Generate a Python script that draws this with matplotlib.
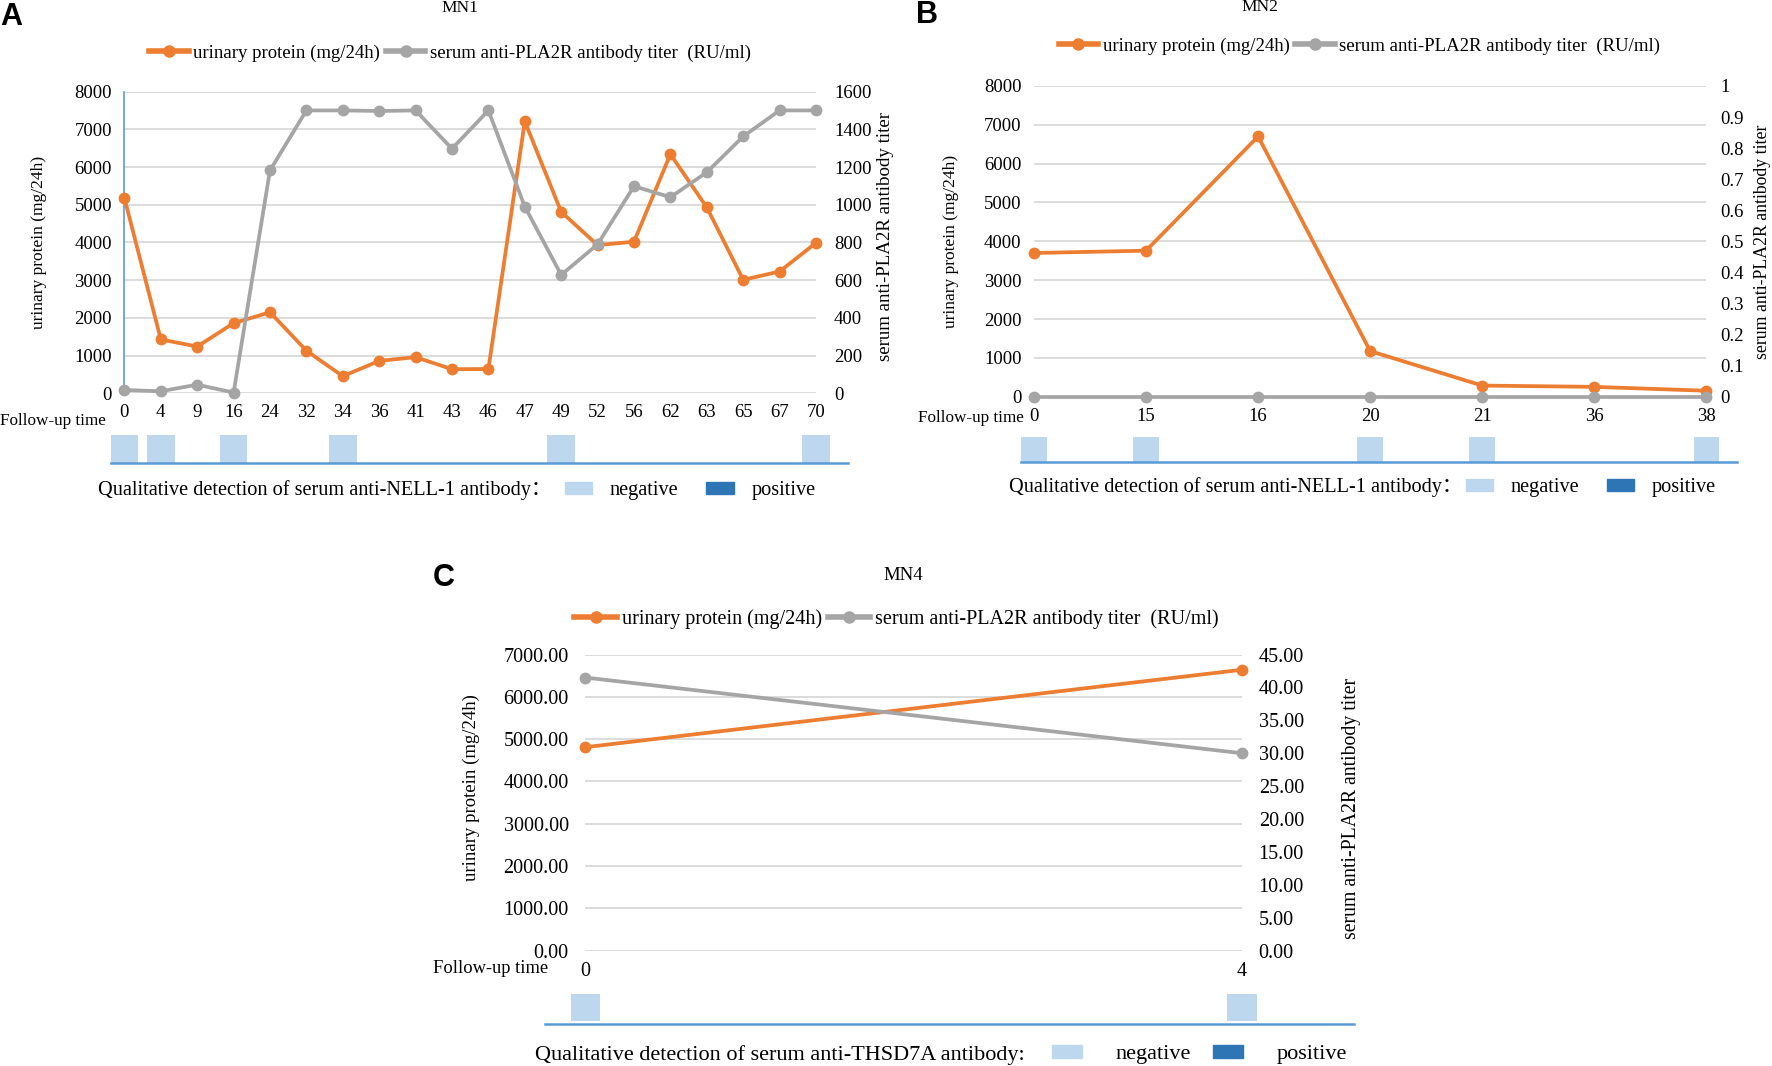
import matplotlib.pyplot as plt
from matplotlib.lines import Line2D
from matplotlib.patches import Patch

plt.rcParams['font.family'] = ['Liberation Serif', 'Noto Sans CJK SC']

# ---- data ----
a_time = ['0', '4', '9', '16', '24', '32', '34', '36', '41', '43', '46', '47', '49', '52', '56', '62', '63', '65', '67', '70']
a_protein = [5180, 1430, 1240, 1860, 2150, 1130, 455, 860, 960, 640, 645, 7210, 4810, 3930, 4020, 6340, 4930, 3010, 3230, 3990]
a_titer = [18, 11, 46, 4, 1182, 1500, 1500, 1497, 1500, 1297, 1500, 990, 628, 790, 1098, 1040, 1172, 1362, 1500, 1500]
a_negative = ['0', '4', '16', '34', '49', '70']

b_time = ['0', '15', '16', '20', '21', '36', '38']
b_protein = [3700, 3760, 6700, 1175, 288, 255, 155]
b_titer = [0, 0, 0, 0, 0, 0, 0]
b_negative = ['0', '15', '20', '21', '38']

c_time = ['0', '4']
c_protein = [4810, 6640]
c_titer = [41.5, 30.0]
c_negative = ['0', '4']

ORANGE = '#ED7D31'
GREY = '#A5A5A5'
NEG = '#BDD7EE'
POS = '#2E75B6'
LINEBLUE = '#5B9BD5'

fig = plt.figure(figsize=(17.72, 10.66), dpi=100)


def panel(rect, times, protein, titer, negative, lmax, lstep, rmax, rstep,
          lfmt, rfmt, title, letter, letter_xy, antibody, lay, fs):
    ax = fig.add_axes(rect)
    ax2 = ax.twinx()
    n = len(times)
    x = list(range(n))

    ax.plot(x, protein, color=ORANGE, lw=2.7, marker='o', ms=7.5, clip_on=False, zorder=3)
    ax2.plot(x, titer, color=GREY, lw=2.7, marker='o', ms=7.5, clip_on=False, zorder=3)

    ax.set_xlim(0, n - 1)
    ax.set_ylim(0, lmax)
    ax2.set_ylim(0, rmax)
    lt = [i * lstep for i in range(int(round(lmax / lstep)) + 1)]
    rt = [i * rstep for i in range(int(round(rmax / rstep)) + 1)]
    ax.set_yticks(lt)
    ax.set_yticklabels([lfmt(v) for v in lt])
    ax2.set_yticks(rt)
    ax2.set_yticklabels([rfmt(v) for v in rt])
    ax.set_xticks(x)
    ax.set_xticklabels(times)

    ax.yaxis.grid(True, color='#D9D9D9', lw=1.3)
    ax.set_axisbelow(True)
    for s in ax.spines.values():
        s.set_visible(False)
    for s in ax2.spines.values():
        s.set_visible(False)
    if lay['blue_spine']:
        ax.spines['left'].set_visible(True)
        ax.spines['left'].set_color(LINEBLUE)
        ax.spines['left'].set_linewidth(1.2)

    ax.tick_params(axis='y', length=0, pad=lay['lpad'], labelsize=fs)
    ax2.tick_params(axis='y', length=0, pad=lay['rpad'], labelsize=fs)
    ax.tick_params(axis='x', length=0, pad=8, labelsize=fs)

    ax.set_ylabel('urinary protein (mg/24h)', fontsize=fs - 1)
    ax.yaxis.set_label_coords(*lay['ylab_l'])
    ax2.set_ylabel('serum anti-PLA2R antibody titer', fontsize=lay['rlfs'])
    ax2.yaxis.set_label_coords(*lay['ylab_r'])

    ax.text(lay['title'][0], lay['title'][1], title, transform=ax.transAxes,
            ha='center', va='center', fontsize=fs - 1)
    fig.text(letter_xy[0], letter_xy[1], letter, family='Liberation Sans',
             fontweight='bold', fontsize=22, ha='left', va='center')

    handles = [Line2D([], [], color=ORANGE, lw=4, marker='o', ms=8),
               Line2D([], [], color=GREY, lw=4, marker='o', ms=8)]
    ax2.legend(handles, ['urinary protein (mg/24h)', 'serum anti-PLA2R antibody titer  (RU/ml)'],
               loc='center', bbox_to_anchor=lay['legend'], ncol=2, frameon=False,
               handlelength=2.1, handletextpad=0.25, columnspacing=0.3,
               fontsize=fs, borderaxespad=0)

    ax.text(lay['follow'][0], lay['follow'][1], 'Follow-up time', transform=ax.transAxes,
            ha='left', va='center', fontsize=fs - 1.2)

    # qualitative NELL-1 / THSD7A strip below the axis
    xt = ax.get_xaxis_transform()
    neg_idx = [times.index(t) for t in negative]
    lo, hi = lay['bar']
    ax.bar(neg_idx, [hi - lo] * len(neg_idx), bottom=lo, width=lay['bar_w'],
           color=NEG, transform=xt, clip_on=False, zorder=1)
    by, bx0, bx1 = lay['base']
    ax.plot([bx0, bx1], [by, by], color=LINEBLUE, lw=1.8,
            transform=ax.transAxes, clip_on=False)

    bfs = lay['bfs']
    ax.text(lay['bottom'][0], lay['bottom'][2], 'Qualitative detection of serum ' + antibody,
            transform=ax.transAxes, ha='left', va='center', fontsize=bfs)
    ax.legend([Patch(color=NEG), Patch(color=POS)], ['negative', 'positive'],
              loc='center left', bbox_to_anchor=(lay['bottom'][1], lay['bottom'][2]),
              ncol=2, frameon=False, handlelength=1.35, handleheight=0.54,
              handletextpad=lay['htp'], columnspacing=lay['csp'],
              fontsize=bfs, borderpad=0, borderaxespad=0)
    return ax, ax2


lay_a = dict(blue_spine=True, lpad=9, rpad=13, ylab_l=(-0.112, 0.5), ylab_r=(1.088, 0.52),
             title=(0.485, 1.277), legend=(0.471, 1.127), follow=(-0.18, -0.09),
             bar=(-0.232, -0.139), bar_w=0.76, base=(-0.232, -0.0196, 1.046),
             bottom=(-0.038, 0.637, -0.322), htp=0.87, csp=1.36, bfs=14.6, rlfs=13.6)
panel([0.0702, 0.631, 0.3903, 0.2831], a_time, a_protein, a_titer, a_negative,
      8000, 1000, 1600, 200, lambda v: '%d' % v, lambda v: '%d' % v,
      'MN1', 'A', (0.0, 0.984), 'anti-NELL-1 antibody：', lay_a, 13.5)

lay_b = dict(blue_spine=False, lpad=9, rpad=10, ylab_l=(-0.111, 0.5), ylab_r=(1.071, 0.5),
             title=(0.336, 1.255), legend=(0.484, 1.127), follow=(-0.173, -0.069),
             bar=(-0.211, -0.131), bar_w=0.23, base=(-0.211, -0.02, 1.045),
             bottom=(-0.037, 0.642, -0.291), htp=0.87, csp=1.36, bfs=14.6, rlfs=12.8)
panel([0.5835, 0.6278, 0.3795, 0.2916], b_time, b_protein, b_titer, b_negative,
      8000, 1000, 1.0, 0.1, lambda v: '%d' % v, lambda v: '%g' % round(v, 1),
      'MN2', 'B', (0.517, 0.986), 'anti-NELL-1 antibody：', lay_b, 13.5)

lay_c = dict(blue_spine=False, lpad=12, rpad=12, ylab_l=(-0.16, 0.55), ylab_r=(1.153, 0.48),
             title=(0.484, 1.267), legend=(0.474, 1.118), follow=(-0.232, -0.061),
             bar=(-0.237, -0.145), bar_w=0.045, base=(-0.248, -0.062, 1.17),
             bottom=(-0.077, 0.711, -0.351), htp=1.5, csp=1.0, bfs=16, rlfs=14.2)
panel([0.3304, 0.1082, 0.3705, 0.2778], c_time, c_protein, c_titer, c_negative,
      7000, 1000, 45, 5, lambda v: '%.2f' % v, lambda v: '%.2f' % v,
      'MN4', 'C', (0.244, 0.458), 'anti-THSD7A antibody:', lay_c, 14.5)

fig.savefig('out.png', dpi=100)
